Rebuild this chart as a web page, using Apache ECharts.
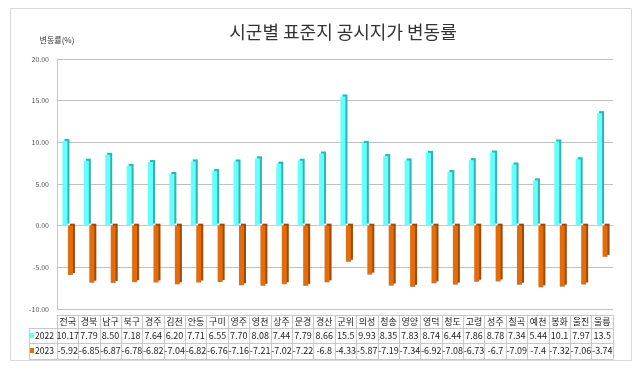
<!DOCTYPE html>
<html><head><meta charset="utf-8">
<script src="https://cdn.jsdelivr.net/npm/echarts@6/dist/echarts.min.js"></script>
<style>html,body{margin:0;padding:0;background:#fff;}#c{width:640px;height:375px;}</style>
</head><body><div id="c"></div>
<script>
const categories = ['전국','경북','남구','북구','경주','김천','안동','구미','영주','영천','상주','문경','경산','군위','의성','청송','영양','영덕','청도','고령','성주','칠곡','예천','봉화','울진','울릉'];
const labels2022 = ['10.17','7.79','8.50','7.18','7.64','6.20','7.71','6.55','7.70','8.08','7.44','7.79','8.66','15.5','9.93','8.35','7.83','8.74','6.44','7.86','8.78','7.34','5.44','10.1','7.97','13.5'];
const labels2023 = ['-5.92','-6.85','-6.87','-6.78','-6.82','-7.04','-6.82','-6.76','-7.16','-7.21','-7.02','-7.22','-6.8','-4.33','-5.87','-7.19','-7.34','-6.92','-7.08','-6.73','-6.7','-7.09','-7.4','-7.32','-7.06','-3.74'];
const values2022 = labels2022.map(Number);
const values2023 = labels2023.map(Number);
const seriesNames = ['2022','2023'];
const yTicks = {min: -10, max: 20, interval: 5};

const chart = echarts.init(document.getElementById('c'), null, {renderer: 'canvas'});
const font = '"Noto Sans CJK KR", "Noto Sans", sans-serif';
const lineCol = '#c8c8c8';
function lineAxis(offset) {
  return {
    type: 'category', data: categories, position: 'bottom', offset: offset,
    axisLine: {show: true, lineStyle: {color: lineCol, width: 1}},
    axisTick: {show: false}, axisLabel: {show: false}, splitLine: {show: false}
  };
}
chart.setOption({
  animation: false,
  title: {text: '시군별 표준지 공시지가 변동률', left: 338, top: 18, textAlign: 'center',
    textStyle: {fontSize: 18, fontWeight: 'normal', color: '#333', fontFamily: font}},
  legend: {orient: 'vertical', left: 30, top: 330, padding: 0, itemWidth: 4, itemHeight: 5, itemGap: 4,
    icon: 'rect', data: seriesNames,
    textStyle: {fontSize: 8.5, color: '#222', fontFamily: font, lineHeight: 11, padding: [0,0,0,-4]}},
  grid: {left: 57, right: 27, top: 59, bottom: 66, containLabel: false},
  xAxis: [
    {type: 'category', data: categories, position: 'bottom', offset: 0,
      axisLine: {show: true, lineStyle: {color: lineCol}}, axisTick: {show: false}, axisLabel: {show: false}},
    {type: 'category', data: categories, position: 'bottom', offset: 6,
      axisLine: {show: true, lineStyle: {color: lineCol}},
      axisTick: {show: true, interval: 0, length: 44, lineStyle: {color: lineCol}},
      axisLabel: {show: true, interval: 0, margin: 0, fontSize: 9, color: '#222', fontFamily: font,
        formatter: (v, i) => '{h|' + v + '}\n{a|' + labels2022[i] + '}\n{b|' + labels2023[i] + '}',
        rich: {h: {lineHeight: 13, fontSize: 9, fontFamily: font},
               a: {lineHeight: 15, fontSize: 9, fontFamily: font},
               b: {lineHeight: 16, fontSize: 9, fontFamily: font}}}},
    lineAxis(19),
    lineAxis(34),
    lineAxis(50)
  ],
  yAxis: {type: 'value', min: yTicks.min, max: yTicks.max, interval: yTicks.interval,
    name: '변동률(%)', nameLocation: 'end', nameGap: 15,
    nameTextStyle: {fontSize: 8, color: '#333', fontFamily: font, align: 'center'},
    axisLine: {show: true, lineStyle: {color: lineCol}}, axisTick: {show: false},
    axisLabel: {formatter: v => v.toFixed(2), fontSize: 7, color: '#555', margin: 8, fontFamily: font},
    splitLine: {lineStyle: {color: '#c0c0c0', width: 1}}},
  series: [
    {name: seriesNames[0], type: 'bar', data: values2022, barWidth: 5, barGap: '10%', xAxisIndex: 0,
      itemStyle: {color: '#66ffff', shadowColor: '#2fb3b3', shadowOffsetX: 2, shadowOffsetY: -2, shadowBlur: 0}},
    {name: seriesNames[1], type: 'bar', data: values2023, barWidth: 5, barGap: '10%', xAxisIndex: 0,
      itemStyle: {color: '#e46c0a', shadowColor: '#9c4a06', shadowOffsetX: 2, shadowOffsetY: -2, shadowBlur: 0}}
  ],
  graphic: [
    {type: 'rect', shape: {x: 10.5, y: 8.5, width: 621, height: 352}, style: {fill: 'none', stroke: '#d9d9d9', lineWidth: 1}, silent: true},
    {type: 'line', shape: {x1: 29, y1: 328.5, x2: 57, y2: 328.5}, style: {stroke: lineCol}},
    {type: 'line', shape: {x1: 29, y1: 343.5, x2: 57, y2: 343.5}, style: {stroke: lineCol}},
    {type: 'line', shape: {x1: 29, y1: 359.5, x2: 57, y2: 359.5}, style: {stroke: lineCol}},
    {type: 'line', shape: {x1: 29.5, y1: 328, x2: 29.5, y2: 360}, style: {stroke: lineCol}}
  ]
});
</script></body></html>
